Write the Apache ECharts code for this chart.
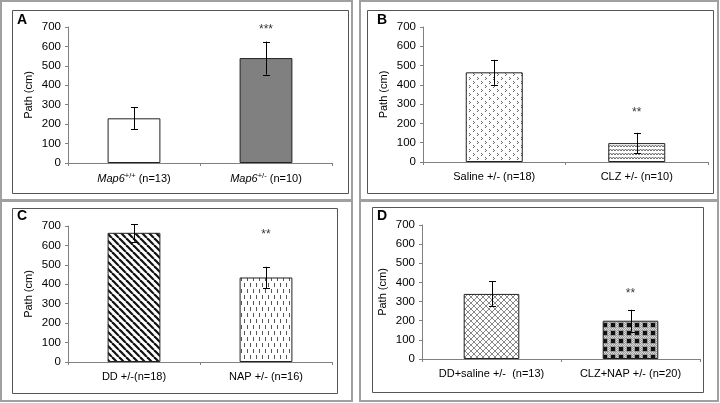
<!DOCTYPE html>
<html>
<head>
<meta charset="utf-8">
<script src="https://cdn.jsdelivr.net/npm/echarts@6/dist/echarts.min.js"></script>
<style>
html,body{margin:0;padding:0;background:#fff;}
#c{width:720px;height:403px;}
</style>
</head>
<body>
<div id="c"></div>
<script>
// ---- data ----
const catsA = ['Map6+/+ (n=13)', 'Map6+/- (n=10)'];
const meanA = [230, 540];
const semA = [57, 85];
const sigA = ['', '***'];
const sigYA = [null, 700];

const catsB = ['Saline +/- (n=18)', 'CLZ +/- (n=10)'];
const meanB = [465, 98];
const semB = [65, 53];
const sigB = ['', '**'];
const sigYB = [null, 270];

const catsC = ['DD +/-(n=18)', 'NAP +/- (n=16)'];
const meanC = [665, 435];
const semC = [45, 55];
const sigC = ['', '**'];
const sigYC = [null, 670];

const catsD = ['DD+saline +/-  (n=13)', 'CLZ+NAP +/- (n=20)'];
const meanD = [340, 200];
const semD = [65, 57];
const sigD = ['', '**'];
const sigYD = [null, 358];

const panelLetters = ['A', 'B', 'C', 'D'];
const yTicks = [0, 100, 200, 300, 400, 500, 600, 700];

// ---- patterns ----
function tile(w, h, draw) {
  const c = document.createElement('canvas');
  c.width = w; c.height = h;
  const g = c.getContext('2d');
  g.fillStyle = '#fff'; g.fillRect(0, 0, w, h);
  draw(g);
  return { image: c, repeat: 'repeat' };
}
const patChevron = tile(8, 8, g => {
  g.fillStyle = '#666';
  [[1,1],[5,5]].forEach(([x,y]) => {
    g.fillRect(x, y, 1, 1); g.fillRect(x+1, y+1, 1, 1); g.fillRect(x, y+2, 1, 1);
  });
});
const patZigzag = tile(6, 4, g => {
  g.strokeStyle = '#666'; g.lineWidth = 1;
  g.beginPath(); g.moveTo(0, 3); g.lineTo(1.5, 1); g.lineTo(3, 3); g.lineTo(4.5, 1); g.lineTo(6, 3); g.stroke();
});
const patDiag = tile(7, 7, g => {
  g.strokeStyle = '#111'; g.lineWidth = 2.2;
  for (let k = -7; k <= 14; k += 7) { g.beginPath(); g.moveTo(k, 0); g.lineTo(k + 7, 7); g.stroke(); }
});
const patDash = tile(6, 12, g => {
  g.fillStyle = '#555';
  g.fillRect(1, 1, 1, 4); g.fillRect(4, 7, 1, 4);
});
const patLattice = tile(6, 6, g => {
  g.strokeStyle = '#888'; g.lineWidth = 1;
  g.beginPath(); g.moveTo(0, 0); g.lineTo(6, 6); g.moveTo(6, 0); g.lineTo(0, 6); g.stroke();
});
const patCheck = tile(8, 8, g => {
  g.fillStyle = '#999'; g.fillRect(0, 0, 8, 8);
  g.fillStyle = '#ddd';
  for (let i = 0; i < 8; i += 2) { g.fillRect(i, 0, 1, 1); g.fillRect(0, i, 1, 1); g.fillRect(i+1, 1, 1, 1); g.fillRect(1, i+1, 1, 1); }
  g.fillStyle = '#111'; g.fillRect(3, 3, 4, 4);
});

const panels = [
  { cats: catsA, mean: meanA, sem: semA, sig: sigA, sigY: sigYA, fills: ['#ffffff', '#808080'],
    grid: { left: 68, top: 27, width: 264, height: 136 }, letter: [17, 21], italic: true },
  { cats: catsB, mean: meanB, sem: semB, sig: sigB, sigY: sigYB, fills: [patChevron, patZigzag],
    grid: { left: 423, top: 27, width: 285, height: 135 }, letter: [377, 21] },
  { cats: catsC, mean: meanC, sem: semC, sig: sigC, sigY: sigYC, fills: [patDiag, patDash],
    grid: { left: 68, top: 226, width: 264, height: 136 }, letter: [17, 217] },
  { cats: catsD, mean: meanD, sem: semD, sig: sigD, sigY: sigYD, fills: [patLattice, patCheck],
    grid: { left: 422, top: 225, width: 278, height: 134 }, letter: [377, 217] }
];

const FONT = 'Liberation Sans, Arial, sans-serif';
const axisColor = '#808080';

const option = {
  animation: false,
  backgroundColor: '#fff',
  textStyle: { fontFamily: FONT },
  grid: [], xAxis: [], yAxis: [], series: [], graphic: []
};

panels.forEach((p, i) => {
  option.grid.push(p.grid);
  option.xAxis.push({
    type: 'category', gridIndex: i, data: p.cats,
    axisLine: { lineStyle: { color: axisColor, width: 1 } },
    axisTick: { show: true, length: 3, lineStyle: { color: axisColor } },
    axisLabel: {
      color: '#000', fontSize: 11, fontFamily: FONT, margin: 9, interval: 0,
      formatter: p.italic ? (v => {
        const m = v.match(/^(Map6)(\S+) (.*)$/);
        return '{i|' + m[1] + '}{s|' + m[2] + '} ' + m[3];
      }) : undefined,
      rich: {
        i: { fontStyle: 'italic', fontSize: 11, fontFamily: FONT, color: '#000' },
        s: { fontSize: 7.5, fontFamily: FONT, color: '#000', padding: [0, 0, 6, 0] }
      }
    },
    splitLine: { show: false }
  });
  option.yAxis.push({
    type: 'value', gridIndex: i, min: 0, max: 700, interval: 100,
    name: 'Path (cm)', nameLocation: 'middle', nameGap: 34, nameRotate: 90,
    nameTextStyle: { color: '#000', fontSize: 11, fontFamily: FONT },
    axisLine: { show: true, lineStyle: { color: axisColor } },
    axisTick: { show: true, length: 3, lineStyle: { color: axisColor } },
    axisLabel: { color: '#000', fontSize: 11.5, fontFamily: FONT, margin: 7,
      customValues: yTicks },
    splitLine: { show: false }
  });
  option.series.push({
    type: 'bar', xAxisIndex: i, yAxisIndex: i, barWidth: '40%',
    data: p.mean.map((v, k) => ({ value: v, itemStyle: { color: p.fills[k], borderColor: '#222', borderWidth: 1 } })),
    z: 2
  });
  option.series.push({
    type: 'custom', xAxisIndex: i, yAxisIndex: i, z: 5,
    data: p.mean.map((v, k) => [k, v - p.sem[k], v + p.sem[k]]),
    renderItem: (params, api) => {
      const lo = api.coord([api.value(0), api.value(1)]);
      const hi = api.coord([api.value(0), api.value(2)]);
      const x = Math.round(lo[0]) + 0.5;
      const w = 3.5;
      const st = { stroke: '#000', lineWidth: 1 };
      return { type: 'group', children: [
        { type: 'line', shape: { x1: x, y1: hi[1], x2: x, y2: lo[1] }, style: st },
        { type: 'line', shape: { x1: x - w, y1: Math.round(hi[1]) + 0.5, x2: x + w, y2: Math.round(hi[1]) + 0.5 }, style: st },
        { type: 'line', shape: { x1: x - w, y1: Math.round(lo[1]) + 0.5, x2: x + w, y2: Math.round(lo[1]) + 0.5 }, style: st }
      ]};
    }
  });
  option.series.push({
    type: 'scatter', xAxisIndex: i, yAxisIndex: i, symbolSize: 0, z: 6,
    data: p.sigY.map((v, k) => v == null ? null : { value: [k, v], label: { formatter: p.sig[k] } }).filter(d => d),
    label: { show: true, position: 'inside', color: '#000', fontSize: 12, fontFamily: FONT, offset: [0, 3] }
  });
  option.graphic.push({
    type: 'text', left: p.letter[0], top: p.letter[1] - 8,
    style: { text: panelLetters[i], fill: '#000', font: 'bold 14px ' + FONT }
  });
});

// panel frames and outer borders
const outer = [[1, 1, 351, 199], [360, 1, 358, 199], [1, 201, 351, 200], [360, 201, 358, 200]];
outer.forEach(r => option.graphic.push({
  type: 'rect', shape: { x: r[0], y: r[1], width: r[2], height: r[3] },
  style: { fill: 'none', stroke: '#a0a0a0', lineWidth: 2 }, silent: true
}));
const frames = [[12.5, 10.5, 336, 183], [367.5, 10.5, 346, 183], [12.5, 208.5, 325, 185], [372.5, 207.5, 331, 185]];
frames.forEach(r => option.graphic.push({
  type: 'rect', shape: { x: r[0], y: r[1], width: r[2], height: r[3] },
  style: { fill: 'none', stroke: '#555', lineWidth: 1 }, silent: true
}));

const chart = echarts.init(document.getElementById('c'), null, { renderer: 'canvas' });
chart.setOption(option);
</script>
</body>
</html>
